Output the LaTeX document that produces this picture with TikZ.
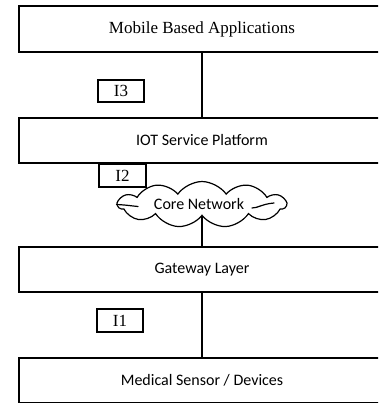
\documentclass[tikz,border=0pt]{standalone}
\usepackage{fontspec}
\setmainfont{Liberation Serif}
\newfontfamily\calib{Carlito}
\usetikzlibrary{shapes.symbols}
\tikzset{
  layer/.style={draw, line width=1.2pt, minimum width=366pt, minimum height=45pt, inner sep=0pt, anchor=center},
  serifbox/.style={layer, font=\fontsize{17}{20}\selectfont},
  sansbox/.style={layer, font=\calib\fontsize{16}{19}\selectfont},
  ilabel/.style={draw, line width=1.2pt, minimum width=46pt, minimum height=22pt, inner sep=0pt, font=\fontsize{17}{20}\selectfont},
  link/.style={line width=1.2pt},
  netcloud/.style={draw, line width=1.2pt, cloud, cloud puffs=11, cloud puff arc=110, aspect=4, minimum width=168pt, minimum height=41pt, inner sep=0pt, font=\calib\fontsize{16}{19}\selectfont},
  curl/.style={line width=1.2pt, line cap=round}
}
\begin{document}
\begin{tikzpicture}[x=1pt,y=-1pt]
\useasboundingbox[fill=white] (0,0) rectangle (378,403);
\clip (0,0) rectangle (378,403);
\node[serifbox, minimum height=46pt] (apps) at (202,29) {Mobile Based Applications};
\node[sansbox] (iot) at (202,140.5) {IOT Service Platform};
\node[sansbox] (gw) at (202,269.5) {Gateway Layer};
\node[sansbox] (med) at (202,380.5) {Medical Sensor / Devices};
\node[ilabel] (i3) at (121,91) {I3};
\node[ilabel, minimum width=47pt, minimum height=23pt] (i2) at (122.5,175.5) {I2};
\node[ilabel, minimum height=23pt] (i1) at (120,320.5) {I1};
\node[netcloud, fill=white] (core) at (202,204.5) {\hspace*{-6pt}Core Network};
\draw[curl] (core.west) .. controls (127,205) and (132,206) .. (138,206.5);
\draw[curl] (252,208) .. controls (258,208) and (262,204) .. (274,203);
\draw[link] (apps.south) -- (iot.north);
\draw[link] (core.south) -- (gw.north);
\draw[link] (gw.south) -- (med.north);
\end{tikzpicture}
\end{document}
